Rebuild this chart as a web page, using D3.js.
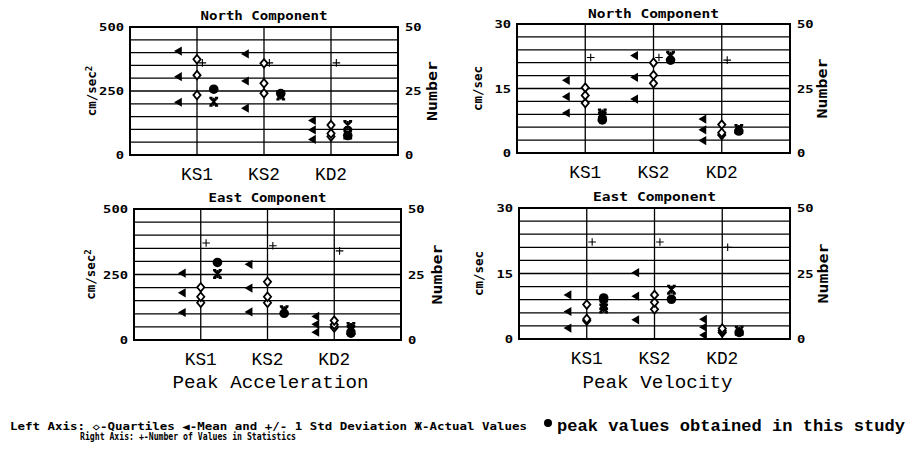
<!DOCTYPE html>
<html>
<head>
<meta charset="utf-8">
<script src="https://cdn.jsdelivr.net/npm/d3@7"></script>
<style>
  html, body { margin: 0; padding: 0; background: #fff; }
  svg { display: block; }
</style>
</head>
<body>
<script>
// Stations along the x axis of every panel
const stations = ["KS1", "KS2", "KD2"];

// Tick labels
const accTicks = [0, 250, 500];
const velTicks = [0, 15, 30];
const countTicks = [0, 25, 50];

// North component, peak acceleration (cm/sec²)
const accNQuartiles = [[234, 312, 374], [241, 280, 358], [72, 84, 117]];
const accNMean = [306, 289, 98];
const accNStd = [100, 106, 37];
const accNActual = [[208], [232], [117, 80]];
const accNStudy = [257, 240, 76];
const accNCount = [36, 36, 36];

// North component, peak velocity (cm/sec)
const velNQuartiles = [[11.6, 13.4, 15.2], [16.2, 18.1, 21.0], [4.2, 4.7, 6.6]];
const velNMean = [13.1, 17.6, 5.4];
const velNStd = [3.8, 5.05, 2.5];
const velNActual = [[9.2, 8.5], [22.6], [5.6]];
const velNStudy = [7.7, 21.6, 5.1];
const velNCount = [37, 37, 36];

// East component, peak acceleration (cm/sec²)
const accEQuartiles = [[142, 165, 201], [142, 165, 222], [48, 58, 74]];
const accEMean = [180, 198, 60];
const accEStd = [75, 91, 30];
const accEActual = [[252], [114], [50, 38]];
const accEStudy = [296, 102, 26];
const accECount = [37, 36, 34];

// East component, peak velocity (cm/sec)
const velEQuartiles = [[4.2, 4.6, 7.9], [6.8, 8.4, 10.1], [1.5, 1.9, 2.4]];
const velEMean = [6.3, 9.8, 2.7];
const velEStd = [3.8, 5.4, 1.8];
const velEActual = [[7.8, 7.0], [11.3], [1.9]];
const velEStudy = [9.4, 9.1, 1.5];
const velECount = [37, 37, 35];

const W = 913, H = 456;
const svg = d3.select("body").append("svg")
  .attr("width", W).attr("height", H)
  .attr("viewBox", `0 0 ${W} ${H}`);

const MONO = "'DejaVu Sans Mono', monospace";
const PLOT = "'Liberation Mono', 'DejaVu Sans Mono', monospace";

// Marker shapes, centred on (0,0)
const DIAMOND = "M0,-4.3L3.6,0L0,4.3L-3.6,0Z";
const TRI_LEFT = "M-4.2,0L3.6,-4.6L3.6,4.6Z";
const ACTUAL = "M-3.6,-3.6L3.6,3.6M3.6,-3.6L-3.6,3.6M0,-4V4M-4.4,-4H-1.2M1.2,-4H4.4M-4.4,4H-1.2M1.2,4H4.4";
const PLUS = "M-3.8,0H3.8M0,-3.8V3.8";

const panels = [
  { title: "North Component", titleW: 127, titleY: 20, unit: "cm/sec", sup: true,
    box: [130, 27, 398, 155], leftMax: 500, leftTicks: accTicks, unitX: 92, numX: 432,
    quart: accNQuartiles, mean: accNMean, std: accNStd, actual: accNActual, study: accNStudy, count: accNCount },
  { title: "North Component", titleW: 131, titleY: 18, unit: "cm/sec", sup: false,
    box: [517, 24, 790, 153], leftMax: 30, leftTicks: velTicks, unitX: 478, numX: 822,
    quart: velNQuartiles, mean: velNMean, std: velNStd, actual: velNActual, study: velNStudy, count: velNCount },
  { title: "East Component", titleW: 118, titleY: 202, unit: "cm/sec", sup: true,
    box: [134, 209, 401, 340], leftMax: 500, leftTicks: accTicks, unitX: 91, numX: 437,
    quart: accEQuartiles, mean: accEMean, std: accEStd, actual: accEActual, study: accEStudy, count: accECount,
    xLabel: "Peak Acceleration", xLabelW: 196 },
  { title: "East Component", titleW: 123, titleY: 201, unit: "cm/sec", sup: false,
    box: [519, 208, 790, 339], leftMax: 30, leftTicks: velTicks, unitX: 479, numX: 823,
    quart: velEQuartiles, mean: velEMean, std: velEStd, actual: velEActual, study: velEStudy, count: velECount,
    xLabel: "Peak Velocity", xLabelW: 150 }
];

function tickWidth(t) { return String(t).length * 8.3; }

function drawPanel(p) {
  const [x0, y0, x1, y1] = p.box;
  const g = svg.append("g");
  const x = d3.scalePoint().domain(stations).range([x0, x1]).padding(1);
  const step = x.step();
  const yL = d3.scaleLinear().domain([0, p.leftMax]).range([y1, y0]);
  const yR = d3.scaleLinear().domain([0, 50]).range([y1, y0]);

  // horizontal rules every tenth of the height
  g.append("g").selectAll("line").data(yR.ticks(10)).join("line")
    .attr("x1", x0).attr("x2", x1)
    .attr("y1", d => yR(d)).attr("y2", d => yR(d))
    .attr("stroke", "#000").attr("stroke-width", 1.3);

  // station lines
  g.append("g").selectAll("line").data(stations).join("line")
    .attr("x1", d => x(d)).attr("x2", d => x(d))
    .attr("y1", y0).attr("y2", y1)
    .attr("stroke", "#000").attr("stroke-width", 1.3);

  // frame
  g.append("rect").attr("x", x0).attr("y", y0)
    .attr("width", x1 - x0).attr("height", y1 - y0)
    .attr("fill", "none").attr("stroke", "#000").attr("stroke-width", 2);

  // left axis
  const la = g.append("g").attr("transform", `translate(${x0},0)`)
    .call(d3.axisLeft(yL).tickValues(p.leftTicks).tickSize(0).tickPadding(6));
  la.select(".domain").remove();
  la.selectAll("text")
    .attr("font-family", MONO).attr("font-weight", "bold").attr("font-size", 11)
    .attr("fill", "#000")
    .attr("textLength", d => tickWidth(d)).attr("lengthAdjust", "spacingAndGlyphs");

  // right axis
  const ra = g.append("g").attr("transform", `translate(${x1},0)`)
    .call(d3.axisRight(yR).tickValues(countTicks).tickSize(0).tickPadding(7));
  ra.select(".domain").remove();
  ra.selectAll("text")
    .attr("font-family", MONO).attr("font-weight", "bold").attr("font-size", 11)
    .attr("fill", "#000")
    .attr("textLength", d => tickWidth(d)).attr("lengthAdjust", "spacingAndGlyphs");

  // title
  g.append("text").attr("x", (x0 + x1) / 2).attr("y", p.titleY)
    .attr("text-anchor", "middle")
    .attr("font-family", MONO).attr("font-weight", "bold").attr("font-size", 11.5)
    .attr("textLength", p.titleW).attr("lengthAdjust", "spacingAndGlyphs")
    .text(p.title);

  // unit label (left) and count label (right)
  const midY = (y0 + y1) / 2;
  const ut = g.append("text")
    .attr("transform", `translate(${p.unitX},${midY}) rotate(-90)`)
    .attr("text-anchor", "middle").attr("dy", "0.35em")
    .attr("font-family", MONO).attr("font-weight", "bold").attr("font-size", 12.5);
  ut.append("tspan").text(p.unit);
  if (p.sup) ut.append("tspan").attr("dy", "-0.45em").attr("font-size", 9).text("2");

  g.append("text")
    .attr("transform", `translate(${p.numX},${midY}) rotate(-90)`)
    .attr("text-anchor", "middle").attr("dy", "0.35em")
    .attr("font-family", MONO).attr("font-weight", "bold").attr("font-size", 14)
    .attr("textLength", 60).attr("lengthAdjust", "spacingAndGlyphs")
    .text("Number");

  // station names
  g.append("g").selectAll("text").data(stations).join("text")
    .attr("x", d => x(d)).attr("y", y1 + 25)
    .attr("text-anchor", "middle")
    .attr("font-family", PLOT).attr("font-size", 19)
    .attr("textLength", 32).attr("lengthAdjust", "spacingAndGlyphs")
    .text(d => d);

  if (p.xLabel) {
    g.append("text").attr("x", (x0 + x1) / 2 + 3).attr("y", 388)
      .attr("text-anchor", "middle")
      .attr("font-family", PLOT).attr("font-size", 19)
      .attr("textLength", p.xLabelW).attr("lengthAdjust", "spacingAndGlyphs")
      .text(p.xLabel);
  }

  // mean and ±1 standard deviation
  const tri = stations.flatMap((s, i) => [
    { s, v: p.mean[i] - p.std[i] }, { s, v: p.mean[i] }, { s, v: p.mean[i] + p.std[i] }
  ]);
  g.append("g").selectAll("path").data(tri).join("path")
    .attr("transform", d => `translate(${x(d.s) - 0.28 * step},${yL(d.v)})`)
    .attr("d", TRI_LEFT).attr("fill", "#000");

  // number of values in statistics (right axis)
  g.append("g").selectAll("path").data(stations.map((s, i) => ({ s, v: p.count[i] }))).join("path")
    .attr("transform", d => `translate(${x(d.s) + 0.08 * step},${yR(d.v)})`)
    .attr("d", PLUS).attr("fill", "none").attr("stroke", "#000").attr("stroke-width", 1.1);

  // quartiles
  const q = stations.flatMap((s, i) => p.quart[i].map(v => ({ s, v })));
  g.append("g").selectAll("path").data(q).join("path")
    .attr("transform", d => `translate(${x(d.s)},${yL(d.v)})`)
    .attr("d", DIAMOND).attr("fill", "#fff").attr("stroke", "#000").attr("stroke-width", 1.8);

  // actual recorded values
  const a = stations.flatMap((s, i) => p.actual[i].map(v => ({ s, v })));
  g.append("g").selectAll("path").data(a).join("path")
    .attr("transform", d => `translate(${x(d.s) + 0.25 * step},${yL(d.v)})`)
    .attr("d", ACTUAL).attr("fill", "none").attr("stroke", "#000").attr("stroke-width", 2);

  // peak values of this study
  g.append("g").selectAll("circle").data(stations.map((s, i) => ({ s, v: p.study[i] }))).join("circle")
    .attr("cx", d => x(d.s) + 0.25 * step).attr("cy", d => yL(d.v))
    .attr("r", 4.8).attr("fill", "#000");
}

panels.forEach(drawPanel);

// legend
const leg = svg.append("g");
leg.append("text").attr("x", 10).attr("y", 430)
  .attr("font-family", MONO).attr("font-weight", "bold").attr("font-size", 10)
  .attr("textLength", 517).attr("lengthAdjust", "spacingAndGlyphs")
  .text("Left Axis: \u25C7-Quartiles  \u25C0-Mean and +/- 1 Std Deviation \u0416-Actual Values");
leg.append("circle").attr("cx", 548).attr("cy", 423).attr("r", 4).attr("fill", "#000");
leg.append("text").attr("x", 557).attr("y", 431)
  .attr("font-family", PLOT).attr("font-weight", "bold").attr("font-size", 17)
  .attr("textLength", 348).attr("lengthAdjust", "spacingAndGlyphs")
  .text("peak values obtained in this study");
leg.append("text").attr("x", 80).attr("y", 440)
  .attr("font-family", MONO).attr("font-weight", "bold").attr("font-size", 10)
  .attr("textLength", 216).attr("lengthAdjust", "spacingAndGlyphs")
  .text("Right Axis:  +-Number of Values in Statistics");
</script>
</body>
</html>
